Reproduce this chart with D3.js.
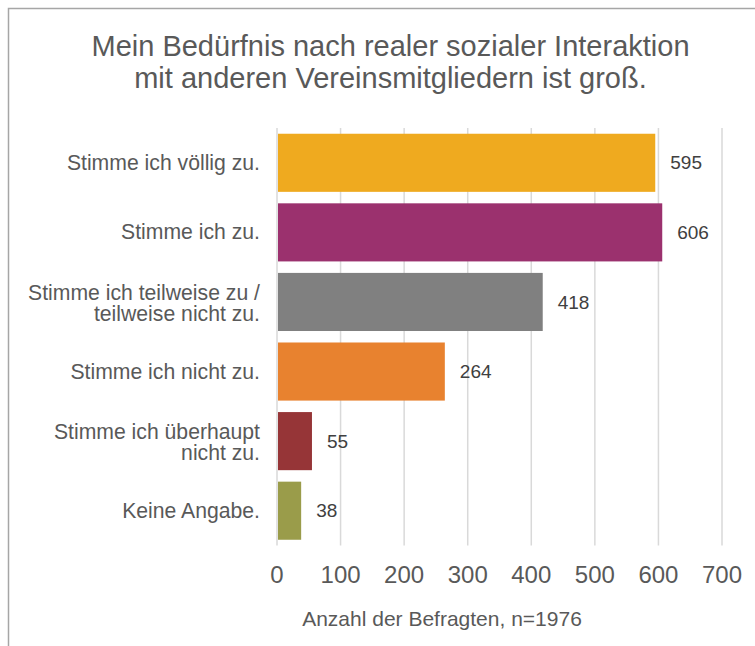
<!DOCTYPE html>
<html>
<head>
<meta charset="utf-8">
<script src="https://cdn.jsdelivr.net/npm/d3@7"></script>
<style>
  body { margin: 0; background: #fff; }
  svg text { font-family: "Liberation Sans", Arial, sans-serif; fill: #595959; }
</style>
</head>
<body>
<div id="chart"></div>
<script>
var categories = [
  ["Stimme ich völlig zu."],
  ["Stimme ich zu."],
  ["Stimme ich teilweise zu /", "teilweise nicht zu."],
  ["Stimme ich nicht zu."],
  ["Stimme ich überhaupt", "nicht zu."],
  ["Keine Angabe."]
];
var values = [595, 606, 418, 264, 55, 38];
var colors = ["#efaa1f", "#9b316e", "#808080", "#e8822f", "#963537", "#9a9c4a"];
var ticks = [0, 100, 200, 300, 400, 500, 600, 700];
var titleLines = ["Mein Bedürfnis nach realer sozialer Interaktion", "mit anderen Vereinsmitgliedern ist groß."];
var axisTitle = "Anzahl der Befragten, n=1976";

var width = 755, height = 646;

var svg = d3.select("#chart").append("svg")
    .attr("width", width)
    .attr("height", height);

// frame of the chart (right and bottom edge lie outside the picture)
svg.append("rect")
    .attr("x", 8.5)
    .attr("y", 8.5)
    .attr("width", 900)
    .attr("height", 900)
    .style("fill", "none")
    .style("stroke", "#a6a6a6")
    .style("stroke-width", 1.5);

var x = d3.scaleLinear()
    .domain([0, 700])
    .range([277, 722]);

var y = d3.scaleBand()
    .domain(d3.range(values.length))
    .range([128, 545.5])
    .paddingInner(0.165)
    .paddingOuter(0.0825);

// gridlines
svg.append("g").selectAll("line")
    .data(ticks)
    .enter().append("line")
    .attr("x1", function(d) { return x(d); })
    .attr("x2", function(d) { return x(d); })
    .attr("y1", 128)
    .attr("y2", 545.5)
    .style("stroke", "#d9d9d9")
    .style("stroke-width", 1.5);

// bars
svg.append("g").selectAll("rect")
    .data(values)
    .enter().append("rect")
    .attr("x", x(0) + 1)
    .attr("y", function(d, i) { return y(i); })
    .attr("width", function(d) { return x(d) - x(0) - 1; })
    .attr("height", y.bandwidth())
    .style("fill", function(d, i) { return colors[i]; });

// value labels
svg.append("g").selectAll("text")
    .data(values)
    .enter().append("text")
    .attr("x", function(d) { return x(d) + 15; })
    .attr("y", function(d, i) { return y(i) + y.bandwidth() / 2; })
    .attr("dy", "0.35em")
    .style("font-size", "19px")
    .style("fill", "#404040")
    .text(function(d) { return d; });

// category labels
var cat = svg.append("g").selectAll("text")
    .data(categories)
    .enter().append("text")
    .attr("text-anchor", "end")
    .style("font-size", "21.2px")
    .attr("y", function(d, i) { return y(i) + y.bandwidth() / 2; });

cat.selectAll("tspan")
    .data(function(d) { return d; })
    .enter().append("tspan")
    .attr("x", 260)
    .attr("dy", function(d, j, nodes) {
      if (j > 0) return 21;
      return nodes.length > 1 ? -2 : 7;
    })
    .text(function(d) { return d; });

// x tick labels
svg.append("g").selectAll("text")
    .data(ticks)
    .enter().append("text")
    .attr("x", function(d) { return x(d); })
    .attr("y", 583)
    .attr("text-anchor", "middle")
    .style("font-size", "24px")
    .text(function(d) { return d; });

// axis title
svg.append("text")
    .attr("x", 442)
    .attr("y", 626)
    .attr("text-anchor", "middle")
    .style("font-size", "21px")
    .text(axisTitle);

// chart title
svg.append("g").selectAll("text")
    .data(titleLines)
    .enter().append("text")
    .attr("x", 390.5)
    .attr("y", function(d, i) { return 55.5 + i * 32; })
    .attr("text-anchor", "middle")
    .style("font-size", "29px")
    .text(function(d) { return d; });
</script>
</body>
</html>
